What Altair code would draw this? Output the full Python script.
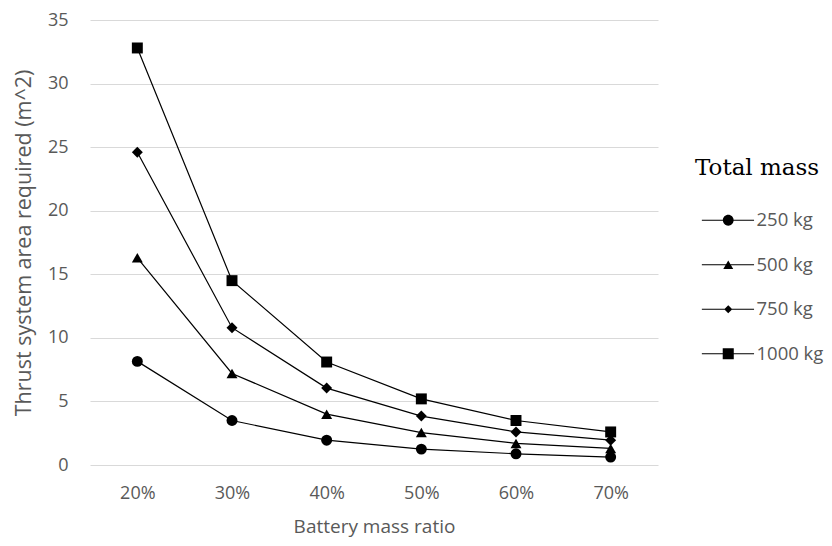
import altair as alt
import pandas as pd

categories = ["20%", "30%", "40%", "50%", "60%", "70%"]
series_names = ["250 kg", "500 kg", "750 kg", "1000 kg"]
area_250 = [8.15, 3.5, 1.95, 1.25, 0.88, 0.62]
area_500 = [16.3, 7.2, 4.0, 2.55, 1.7, 1.3]
area_750 = [24.6, 10.8, 6.05, 3.85, 2.6, 1.95]
area_1000 = [32.8, 14.5, 8.1, 5.2, 3.5, 2.6]
y_ticks = [0, 5, 10, 15, 20, 25, 30, 35]

rows = []
for name, vals in zip(series_names, [area_250, area_500, area_750, area_1000]):
    for c, v in zip(categories, vals):
        rows.append({"ratio": c, "mass": name, "area": v})
df = pd.DataFrame(rows)

plot_shapes = ["circle", "triangle-up", "diamond", "square"]
plot_sizes = [120, 120, 64, 160]
legend_paths = [
    "M-4.4,-0.1H4.3V0.1H-4.4Z M0.9,0A0.9,0.9,0,1,1,-0.9,0A0.9,0.9,0,1,1,0.9,0Z",
    "M-4.4,-0.1H4.3V0.1H-4.4Z M0,-0.72L0.83,0.72L-0.83,0.72Z",
    "M-4.4,-0.1H4.3V0.1H-4.4Z M-0.67,0L0,-0.67L0.67,0L0,0.67Z",
    "M-4.4,-0.1H4.3V0.1H-4.4Z M-0.92,-0.92H0.92V0.92H-0.92Z",
]

grey = "#595959"
font = "Open Sans"

x_enc = alt.X(
    "ratio:N",
    sort=categories,
    scale=alt.Scale(domain=categories),
    axis=alt.Axis(
        title="Battery mass ratio",
        labelAngle=0,
        domain=False,
        ticks=False,
        tickSize=0,
        grid=False,
        labelFont=font,
        labelFontSize=18,
        labelColor=grey,
        labelPadding=19,
        titleFont=font,
        titleFontSize=19,
        titleFontWeight="normal",
        titleColor=grey,
        titlePadding=15,
    ),
)
y_enc = alt.Y(
    "area:Q",
    scale=alt.Scale(domain=[0, 35], nice=False),
    axis=alt.Axis(
        title="Thrust system area required (m^2)",
        values=y_ticks,
        domain=False,
        ticks=False,
        tickSize=0,
        grid=True,
        gridColor="#d9d9d9",
        gridWidth=1,
        labelFont=font,
        labelFontSize=18,
        labelColor=grey,
        labelPadding=22,
        titleFont=font,
        titleFontSize=21.5,
        titleFontWeight="normal",
        titleColor=grey,
        titlePadding=12,
    ),
)

base = alt.Chart(df)

lines = base.mark_line(color="black", strokeWidth=1.2).encode(
    x=x_enc, y=y_enc, detail="mass:N"
)

points = base.mark_point(filled=True, color="black", opacity=1).encode(
    x=x_enc,
    y=y_enc,
    shape=alt.Shape("mass:N", scale=alt.Scale(domain=series_names, range=plot_shapes), legend=None),
    size=alt.Size("mass:N", scale=alt.Scale(domain=series_names, range=plot_sizes), legend=None),
)

legend_layer = base.mark_point(filled=True, color="black", opacity=1).encode(
    x=x_enc,
    y=y_enc,
    shape=alt.Shape(
        "mass:N",
        scale=alt.Scale(domain=series_names, range=legend_paths),
        legend=alt.Legend(
            title="Total mass",
            orient="none",
            legendX=605,
            legendY=137,
            titleFont="DejaVu Serif",
            titleFontSize=23,
            titleFontWeight="normal",
            titleColor="black",
            titlePadding=31,
            labelFont=font,
            labelFontSize=18.5,
            labelColor=grey,
            symbolSize=144,
            symbolFillColor="black",
            symbolStrokeWidth=0,
            symbolOpacity=1,
            symbolOffset=24,
            labelOffset=19,
            rowPadding=25.5,
        ),
    ),
).transform_filter("false")

chart = (
    alt.layer(lines, points, legend_layer)
    .resolve_scale(shape="independent", size="independent")
    .properties(
        width=568,
        height=445,
        autosize=alt.AutoSizeParams(type="none"),
        padding={"left": 82, "top": 12, "right": 166, "bottom": 73},
    )
    .configure_view(stroke=None)
)

chart.save("out.html", embed_options={"renderer": "svg", "actions": False})
